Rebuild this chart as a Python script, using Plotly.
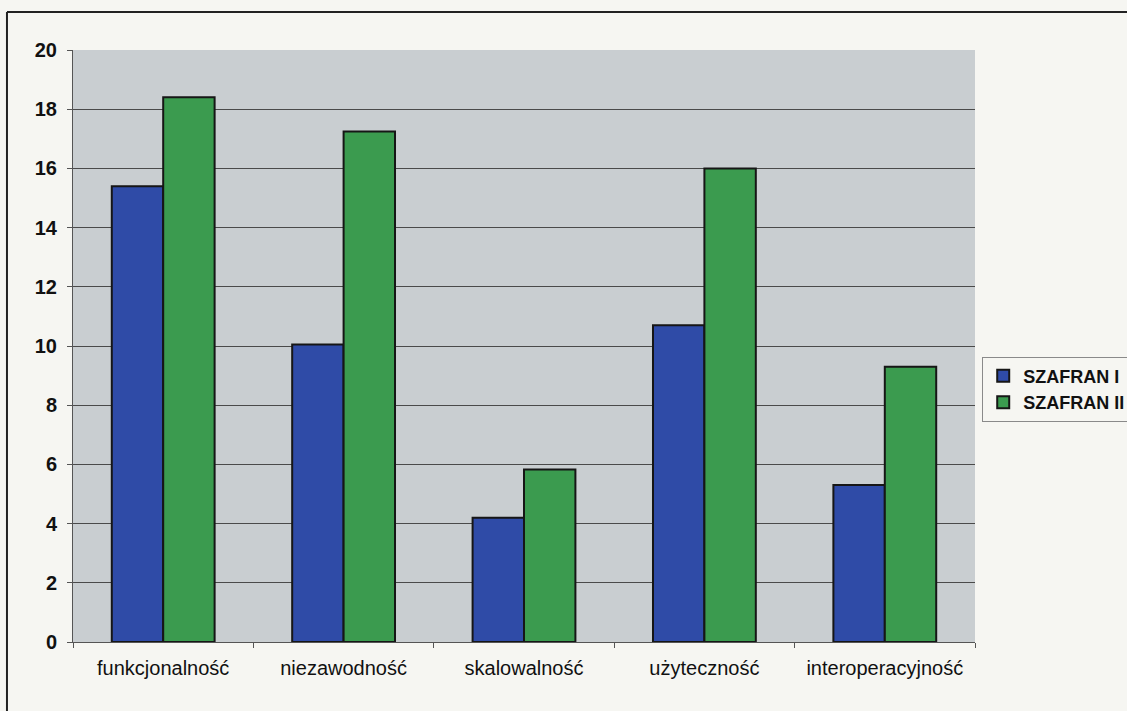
import plotly.graph_objects as go

categories = ["funkcjonalność", "niezawodność", "skalowalność", "użyteczność", "interoperacyjność"]
series_names = ["SZAFRAN I", "SZAFRAN II"]
szafran_1 = [15.4, 10.05, 4.2, 10.7, 5.3]
szafran_2 = [18.4, 17.25, 5.83, 16.0, 9.3]
y_ticks = [0, 2, 4, 6, 8, 10, 12, 14, 16, 18, 20]

BLUE = "#2F4BA7"
GREEN = "#3B9B4F"
OUTLINE = "#161616"

fig = go.Figure()
for name, vals, col in [(series_names[0], szafran_1, BLUE), (series_names[1], szafran_2, GREEN)]:
    fig.add_trace(go.Bar(
        x=categories, y=vals, name=name,
        marker=dict(color=col, line=dict(color=OUTLINE, width=2)),
    ))

fig.update_layout(
    width=1127, height=711,
    margin=dict(l=73, r=152, t=50, b=69, autoexpand=False),
    paper_bgcolor="#F6F6F2",
    plot_bgcolor="#C9CED1",
    barmode="group",
    bargap=0.43,
    bargroupgap=0.0,
    font=dict(family="Liberation Sans, Arial, sans-serif", color="#111111"),
    showlegend=True,
    legend=dict(
        x=1.008, y=0.482, xanchor="left", yanchor="top",
        bgcolor="#F6F6F2", bordercolor="#8A8A8A", borderwidth=1,
        font=dict(size=18, family="Liberation Sans, Arial, sans-serif", color="#111111", weight="bold"),
        itemwidth=30,
    ),
    xaxis=dict(
        showline=True, linecolor="#555555", linewidth=1,
        ticks="outside", ticklen=5, tickcolor="#555555", tickson="boundaries",
        tickfont=dict(size=20, color="#111111"),
        ticklabelstandoff=8,
        showgrid=False,
    ),
    yaxis=dict(
        range=[0, 20], tickvals=y_ticks,
        showline=True, linecolor="#555555", linewidth=1,
        ticks="outside", ticklen=5, tickcolor="#555555",
        tickfont=dict(size=20, color="#111111", weight="bold"),
        ticklabelstandoff=6,
        showgrid=True, gridcolor="#4A4A4A", gridwidth=1,
        zeroline=False,
    ),
    shapes=[
        dict(type="line", xref="paper", yref="paper",
             x0=-0.0732, x1=1.2, y0=1.0642, y1=1.0642,
             line=dict(color="#222222", width=2)),
        dict(type="line", xref="paper", yref="paper",
             x0=-0.0732, x1=-0.0732, y0=1.0642, y1=-0.2,
             line=dict(color="#222222", width=2)),
    ],
)

fig.write_html("out.html")
